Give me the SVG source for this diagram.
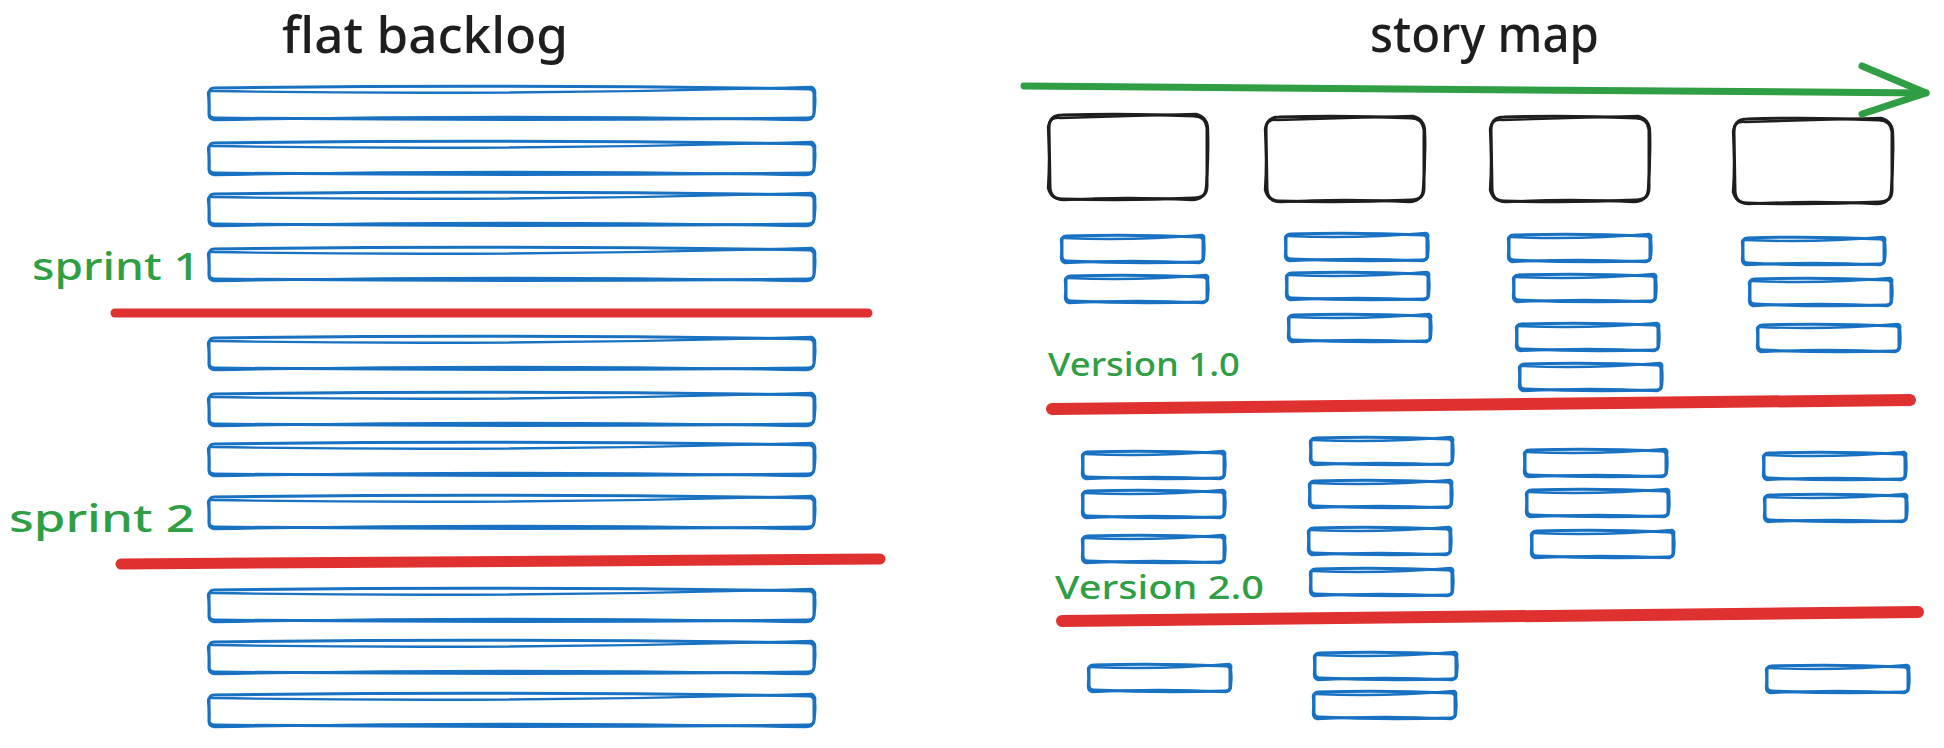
<svg xmlns="http://www.w3.org/2000/svg" xmlns:xlink="http://www.w3.org/1999/xlink" width="1944" height="748" viewBox="0 0 1944 748">
<style>
.blue{fill:none;stroke:#1971c2;stroke-linecap:round;stroke-linejoin:round}
.blk{fill:none;stroke:#1e1e1e;stroke-linecap:round;stroke-linejoin:round}
.title{font-family:"Noto Sans","Liberation Sans",sans-serif;font-size:50px;fill:#1e1e1e;font-weight:500}
.lbl{font-family:"Noto Sans","Liberation Sans",sans-serif;fill:#2f9e44;font-weight:500}
.red{stroke:#e03131;stroke-linecap:round;fill:none}
.grn{stroke:#2f9e44;stroke-linecap:round;stroke-linejoin:round;fill:none;stroke-width:7}
</style>
<defs>
<g id="lb">
<path class="blue" stroke-width="3" d="M6,1 Q300,-3 601,2 Q606,2 606,7 L606,26 Q606,31 600,31 Q300,34 7,31 Q1,31 1,26 L1,7 Q1,1 6,1 Z"/>
<path class="blue" stroke-width="2.4" d="M4,4 Q300,9 604,0 Q608,2 607,8 Q608,17 606,27 Q605,33 598,33 Q300,27 6,33 Q0,32 1,27 Q2,16 0,7 Q0,3 4,4 Z"/>
</g>
<g id="sb">
<path class="blue" stroke-width="3" d="M5,1 Q70,-1 138,2 Q142,2 142,6 L142,23 Q142,27 137,27 Q70,29 6,26 Q1,26 1,21 L1,6 Q1,1 5,1 Z"/>
<path class="blue" stroke-width="2.4" d="M3,3 Q72,6 141,0 Q144,1 143,5 Q144,14 143,22 Q143,27 138,28 Q72,24 4,28 Q0,27 0,22 Q1,14 0,5 Q0,2 3,3 Z"/>
</g>
<g id="bx">
<path class="blk" stroke-width="3" d="M14,1 Q80,-1 146,2 Q158,2 159,14 L159,72 Q159,84 146,84 Q80,87 14,85 Q2,85 2,72 L1,14 Q1,1 14,1 Z"/>
<path class="blk" stroke-width="2.4" d="M12,4 Q80,2 148,0 Q160,3 160,16 Q161,45 158,73 Q157,86 144,86 Q80,82 16,86 Q3,86 0,74 Q2,44 0,13 Q1,3 12,4 Z"/>
</g>
</defs>
<rect width="1944" height="748" fill="#ffffff"/>

<g id="titles">
<text class="title" x="282" y="53" textLength="286" lengthAdjust="spacingAndGlyphs">flat backlog</text>
<text class="title" x="1370" y="52" textLength="229" lengthAdjust="spacingAndGlyphs">story map</text>
</g>

<g id="labels">
<text class="lbl" x="32" y="280" font-size="38" textLength="168" lengthAdjust="spacingAndGlyphs">sprint 1</text>
<text class="lbl" x="9" y="532" font-size="38" textLength="186" lengthAdjust="spacingAndGlyphs">sprint 2</text>
<text class="lbl" x="1048" y="376" font-size="33" textLength="192" lengthAdjust="spacingAndGlyphs">Version 1.0</text>
<text class="lbl" x="1055" y="599" font-size="33" textLength="209" lengthAdjust="spacingAndGlyphs">Version 2.0</text>
</g>

<g id="backlog">
<g id="b1"><use href="#lb" x="208" y="87"/></g>
<g id="b2"><use href="#lb" x="208" y="142"/></g>
<g id="b3"><use href="#lb" x="208" y="193"/></g>
<g id="b4"><use href="#lb" x="208" y="248"/></g>
<g id="b5"><use href="#lb" x="208" y="337"/></g>
<g id="b6"><use href="#lb" x="208" y="393"/></g>
<g id="b7"><use href="#lb" x="208" y="443"/></g>
<g id="b8"><use href="#lb" x="208" y="496"/></g>
<g id="b9"><use href="#lb" x="208" y="589"/></g>
<g id="b10"><use href="#lb" x="208" y="641"/></g>
<g id="b11"><use href="#lb" x="208" y="694"/></g>
</g>

<g id="activities">
<g id="a1"><use href="#bx" x="1048" y="114"/></g>
<g id="a2"><use href="#bx" x="1265" y="116"/></g>
<g id="a3"><use href="#bx" x="1490" y="116"/></g>
<g id="a4"><use href="#bx" x="1733" y="118"/></g>
</g>

<g id="stories">
<g id="c1s1"><use href="#sb" x="1061" y="235"/></g>
<g id="c1s2"><use href="#sb" x="1065" y="275"/></g>
<g id="c1s3"><use href="#sb" x="1082" y="451"/></g>
<g id="c1s4"><use href="#sb" x="1082" y="490"/></g>
<g id="c1s5"><use href="#sb" x="1082" y="535"/></g>
<g id="c1s6"><use href="#sb" x="1088" y="664"/></g>
<g id="c2s1"><use href="#sb" x="1285" y="233"/></g>
<g id="c2s2"><use href="#sb" x="1286" y="272"/></g>
<g id="c2s3"><use href="#sb" x="1288" y="314"/></g>
<g id="c2s4"><use href="#sb" x="1310" y="437"/></g>
<g id="c2s5"><use href="#sb" x="1309" y="480"/></g>
<g id="c2s6"><use href="#sb" x="1308" y="527"/></g>
<g id="c2s7"><use href="#sb" x="1310" y="568"/></g>
<g id="c2s8"><use href="#sb" x="1314" y="652"/></g>
<g id="c2s9"><use href="#sb" x="1313" y="691"/></g>
<g id="c3s1"><use href="#sb" x="1508" y="234"/></g>
<g id="c3s2"><use href="#sb" x="1513" y="274"/></g>
<g id="c3s3"><use href="#sb" x="1516" y="323"/></g>
<g id="c3s4"><use href="#sb" x="1519" y="363"/></g>
<g id="c3s5"><use href="#sb" x="1524" y="449"/></g>
<g id="c3s6"><use href="#sb" x="1526" y="489"/></g>
<g id="c3s7"><use href="#sb" x="1531" y="530"/></g>
<g id="c4s1"><use href="#sb" x="1742" y="237"/></g>
<g id="c4s2"><use href="#sb" x="1749" y="278"/></g>
<g id="c4s3"><use href="#sb" x="1757" y="324"/></g>
<g id="c4s4"><use href="#sb" x="1763" y="452"/></g>
<g id="c4s5"><use href="#sb" x="1764" y="494"/></g>
<g id="c4s6"><use href="#sb" x="1766" y="665"/></g>
</g>

<g id="connectors">
<path class="red" stroke-width="9" d="M115,313 L868,313"/>
<path class="red" stroke-width="11" d="M121,564 Q500,563 880,559"/>
<path class="red" stroke-width="12" d="M1052,409 Q1480,405 1910,400"/>
<path class="red" stroke-width="12" d="M1062,621 Q1490,617 1918,612"/>
<path class="grn" d="M1024,86 Q1450,88 1926,93"/>
<path class="grn" d="M1862,66 L1926,93 L1862,114"/>
</g>
</svg>
